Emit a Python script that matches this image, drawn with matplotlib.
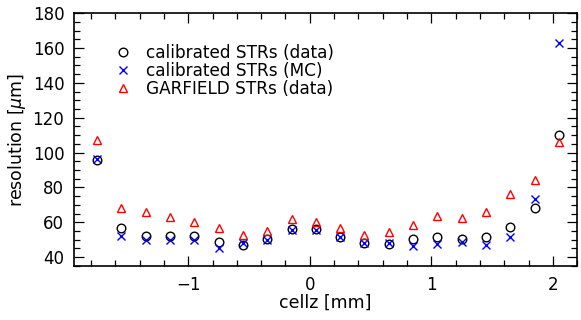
import matplotlib
matplotlib.use("Agg")
import matplotlib.pyplot as plt
from matplotlib.ticker import MultipleLocator

plt.rcParams['font.family'] = ['DejaVu Sans']
plt.rcParams['mathtext.fontset'] = 'dejavusans'

# cellz bin centres [mm]
cellz = [-1.75, -1.55, -1.35, -1.15, -0.95, -0.75, -0.55, -0.35, -0.15, 0.05,
         0.25, 0.45, 0.65, 0.85, 1.05, 1.25, 1.45, 1.65, 1.85, 2.05]

# resolution [um]
res_data = [96.0, 57.0, 52.0, 52.0, 52.0, 48.8, 47.0, 50.3, 55.9, 56.4,
            51.8, 48.3, 47.4, 50.3, 51.4, 50.3, 51.6, 57.3, 68.5, 110.3]
res_mc = [96.2, 52.0, 50.0, 49.7, 49.7, 45.4, 48.0, 49.7, 55.8, 55.5,
          51.6, 47.9, 48.0, 46.3, 47.6, 48.8, 47.2, 51.6, 73.2, 163.0]
res_garfield = [107.0, 68.0, 66.2, 63.0, 60.0, 56.5, 53.0, 55.3, 61.8, 60.2,
                57.0, 52.5, 54.4, 58.2, 63.4, 62.3, 66.2, 76.4, 84.5, 106.3]

labels = ["calibrated STRs (data)", "calibrated STRs (MC)", "GARFIELD STRs (data)"]

fig = plt.figure(figsize=(5.81, 3.2), dpi=100)
ax = fig.add_axes([0.1274, 0.169, 0.866, 0.790])

ax.plot(cellz, res_data, 'o', ms=6.2, mfc='none', mec='black', mew=1.0, label=labels[0])
ax.plot(cellz, res_mc, 'x', ms=6.2, color='blue', mew=1.0, label=labels[1])
ax.plot(cellz, res_garfield, '^', ms=6, mfc='none', mec='red', mew=1.0, label=labels[2])

ax.set_xlim(-1.94, 2.2)
ax.set_ylim(35, 180)
ax.xaxis.set_major_locator(MultipleLocator(1))
ax.xaxis.set_minor_locator(MultipleLocator(0.2))
ax.yaxis.set_major_locator(MultipleLocator(20))
ax.yaxis.set_minor_locator(MultipleLocator(5))
ax.tick_params(which='both', direction='in', top=True, right=True, width=0.9, labelsize=12)
ax.tick_params(which='major', length=7, pad=7)
ax.tick_params(which='minor', length=4)
for s in ax.spines.values():
    s.set_linewidth(1.2)

ax.set_xlabel("cellz [mm]", fontsize=12.5, labelpad=0)
ax.set_ylabel(r"resolution [$\mu$m]", fontsize=12.5, labelpad=3)

ax.legend(loc='upper left', bbox_to_anchor=(0.068, 0.905), frameon=False, fontsize=12.2,
          handlelength=1.0, handletextpad=0.8, labelspacing=0.0, borderaxespad=0)

fig.savefig("out.png", dpi=100)
